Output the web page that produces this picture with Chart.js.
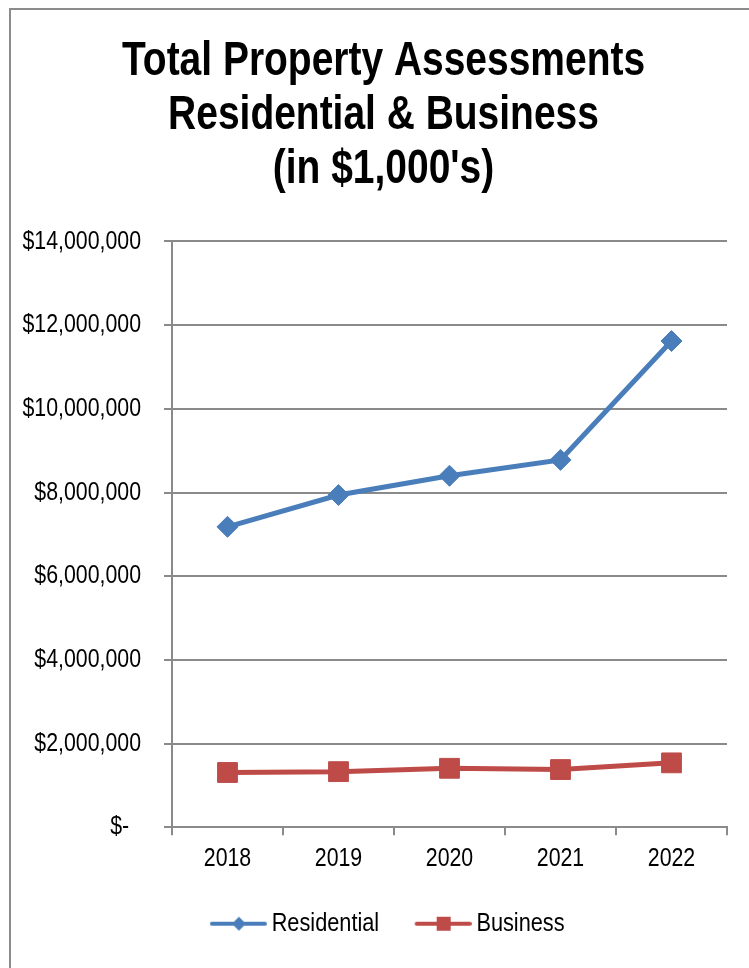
<!DOCTYPE html>
<html>
<head>
<meta charset="utf-8">
<script src="https://cdn.jsdelivr.net/npm/chart.js@4.4.1/dist/chart.umd.min.js"></script>
<style>
  html, body { margin: 0; padding: 0; background: #fff; overflow: hidden; }
  #wrap { position: relative; width: 749px; height: 968px; }
  #frame { position: absolute; left: 9px; top: 8px; width: 800px; height: 1000px;
           border: 2px solid #8c8c8c; pointer-events: none; }
</style>
</head>
<body>
<div id="wrap">
  <canvas id="chart" width="749" height="968"></canvas>
  <div id="frame"></div>
</div>
<script>
const years = ['2018', '2019', '2020', '2021', '2022'];
const residential = [7180000, 7940000, 8400000, 8780000, 11620000];
const business = [1310000, 1330000, 1410000, 1380000, 1540000];
const yTickLabels = ['$-  ', '$2,000,000', '$4,000,000', '$6,000,000', '$8,000,000',
                     '$10,000,000', '$12,000,000', '$14,000,000'];
const titleLines = ['Total Property Assessments', 'Residential & Business', "(in $1,000's)"];

const BLUE = '#4a7ebb';
const RED = '#be4b48';
const GRID = '#8a8a8a';
const FONT = "'Liberation Sans', Arial, sans-serif";
const SQUEEZE = 0.82;   // narrow look: text drawn at 82% width

const canvas = document.getElementById('chart');
const ctx = canvas.getContext('2d');

// squeeze every piece of text horizontally around its anchor point
const rawFill = ctx.fillText.bind(ctx);
const rawMeasure = ctx.measureText.bind(ctx);
ctx.fillText = function (text, x, y, maxWidth) {
  ctx.save();
  ctx.translate(x, y);
  ctx.scale(SQUEEZE, 1);
  if (maxWidth === undefined) rawFill(text, 0, 0);
  else rawFill(text, 0, 0, maxWidth / SQUEEZE);
  ctx.restore();
};
ctx.measureText = function (text) {
  const m = rawMeasure(text);
  return { width: m.width * SQUEEZE,
           actualBoundingBoxAscent: m.actualBoundingBoxAscent,
           actualBoundingBoxDescent: m.actualBoundingBoxDescent };
};

// little line + marker swatches for the legend (blank strip on the left)
function legendIcon(color, shape) {
  const c = document.createElement('canvas');
  c.width = 73; c.height = 16;
  const g = c.getContext('2d');
  g.strokeStyle = color;
  g.lineWidth = 4;
  g.lineCap = 'round';
  g.beginPath(); g.moveTo(18, 8); g.lineTo(71, 8); g.stroke();
  g.fillStyle = color;
  g.beginPath();
  if (shape === 'diamond') {
    g.moveTo(45, 1); g.lineTo(52, 8); g.lineTo(45, 15); g.lineTo(38, 8);
  } else {
    g.rect(38, 1, 14, 14);
  }
  g.closePath(); g.fill();
  return c;
}
const icons = [legendIcon(BLUE, 'diamond'), legendIcon(RED, 'square')];

// title and legend sit centred over the plot a bit right of the canvas middle
const nudgeBlocks = {
  id: 'nudgeBlocks',
  afterLayout(chart) {
    chart.titleBlock.left += 20;
    chart.legend.left += 20;
  }
};

new Chart(ctx, {
  type: 'line',
  data: {
    labels: years,
    datasets: [
      {
        label: 'Residential',
        data: residential,
        borderColor: BLUE,
        backgroundColor: BLUE,
        borderWidth: 5,
        pointStyle: 'rectRot',
        pointRadius: 10.5,
        pointBorderWidth: 1,
        tension: 0
      },
      {
        label: 'Business',
        data: business,
        borderColor: RED,
        backgroundColor: RED,
        borderWidth: 5,
        pointStyle: 'rect',
        pointRadius: 14,
        pointBorderWidth: 1,
        tension: 0
      }
    ]
  },
  options: {
    responsive: false,
    animation: false,
    layout: { padding: { left: 20, right: 22, top: 0, bottom: 21 } },
    plugins: {
      title: {
        display: true,
        text: titleLines,
        color: '#000',
        font: { family: FONT, size: 47.5, weight: 'bold', lineHeight: 1.14 },
        padding: { top: 35, bottom: 44 }
      },
      legend: {
        position: 'bottom',
        labels: {
          usePointStyle: true,
          pointStyleWidth: 56,
          padding: 28,
          color: '#000',
          font: { family: FONT, size: 26.5 },
          generateLabels: chart => chart.data.datasets.map((ds, i) => ({
            text: ds.label,
            pointStyle: icons[i],
            fillStyle: 'transparent',
            strokeStyle: 'transparent',
            lineWidth: 0,
            fontColor: '#000',
            hidden: false,
            datasetIndex: i
          }))
        }
      },
      tooltip: { enabled: false }
    },
    scales: {
      x: {
        offset: true,
        grid: {
          offset: true,
          drawOnChartArea: false,
          color: GRID,
          lineWidth: 2,
          tickLength: 8
        },
        border: { color: GRID, width: 2 },
        ticks: { color: '#000', font: { family: FONT, size: 26 }, padding: 8 }
      },
      y: {
        min: 0,
        max: 14000000,
        afterFit: scale => { scale.width = 152; },
        grid: { color: GRID, lineWidth: 2, tickLength: 8 },
        border: { color: GRID, width: 2 },
        ticks: {
          stepSize: 2000000,
          color: '#000',
          font: { family: FONT, size: 26 },
          padding: 23,
          callback: (v, i) => yTickLabels[i]
        }
      }
    }
  },
  plugins: [nudgeBlocks]
});
</script>
</body>
</html>
